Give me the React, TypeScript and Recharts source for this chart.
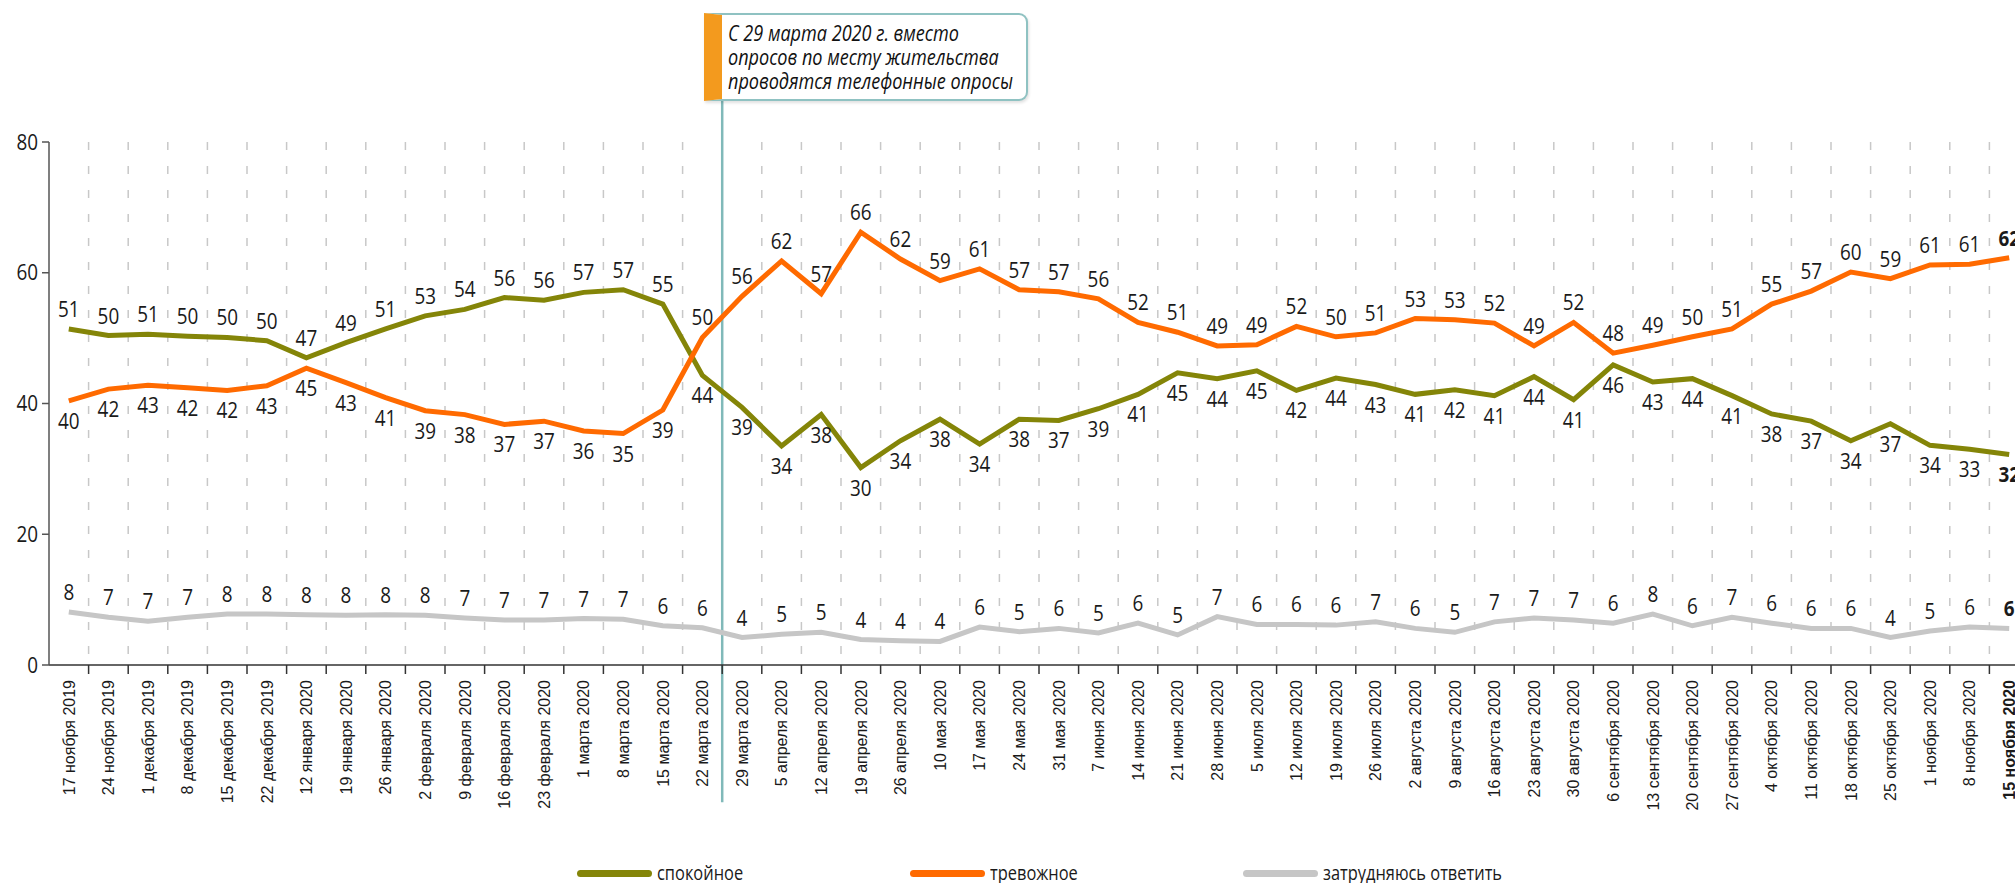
import React from 'react';
import {
  LineChart, Line, XAxis, YAxis, CartesianGrid, ReferenceLine, LabelList, Legend
} from 'recharts';

// weekly polls, 17.11.2019 – 15.11.2020
const categories = [
  '17 ноября 2019', '24 ноября 2019', '1 декабря 2019', '8 декабря 2019', '15 декабря 2019',
  '22 декабря 2019', '12 января 2020', '19 января 2020', '26 января 2020', '2 февраля 2020',
  '9 февраля 2020', '16 февраля 2020', '23 февраля 2020', '1 марта 2020', '8 марта 2020',
  '15 марта 2020', '22 марта 2020', '29 марта 2020', '5 апреля 2020', '12 апреля 2020',
  '19 апреля 2020', '26 апреля 2020', '10 мая 2020', '17 мая 2020', '24 мая 2020',
  '31 мая 2020', '7 июня 2020', '14 июня 2020', '21 июня 2020', '28 июня 2020',
  '5 июля 2020', '12 июля 2020', '19 июля 2020', '26 июля 2020', '2 августа 2020',
  '9 августа 2020', '16 августа 2020', '23 августа 2020', '30 августа 2020', '6 сентября 2020',
  '13 сентября 2020', '20 сентября 2020', '27 сентября 2020', '4 октября 2020', '11 октября 2020',
  '18 октября 2020', '25 октября 2020', '1 ноября 2020', '8 ноября 2020', '15 ноября 2020',
];

const calm = [
  51.4, 50.4, 50.6, 50.3, 50.1, 49.6, 47.0, 49.3, 51.4, 53.4,
  54.4, 56.2, 55.8, 57.0, 57.4, 55.2, 44.3, 39.4, 33.5, 38.3,
  30.2, 34.3, 37.6, 33.8, 37.6, 37.4, 39.2, 41.4, 44.7, 43.8,
  45.0, 42.0, 43.9, 42.9, 41.4, 42.1, 41.2, 44.1, 40.6, 45.9,
  43.3, 43.8, 41.2, 38.4, 37.3, 34.3, 36.9, 33.6, 33.0, 32.2,
];

const anxious = [
  40.4, 42.2, 42.8, 42.4, 42.0, 42.7, 45.4, 43.2, 40.9, 38.9,
  38.3, 36.8, 37.3, 35.8, 35.4, 39.0, 50.1, 56.4, 61.8, 56.8,
  66.2, 62.1, 58.8, 60.6, 57.4, 57.1, 56.0, 52.4, 50.9, 48.8,
  49.0, 51.8, 50.2, 50.8, 53.0, 52.8, 52.3, 48.8, 52.4, 47.7,
  48.9, 50.2, 51.4, 55.2, 57.2, 60.1, 59.1, 61.2, 61.3, 62.3,
];

const unsure = [
  8.1, 7.3, 6.7, 7.3, 7.8, 7.8, 7.7, 7.6, 7.7, 7.6,
  7.2, 6.9, 6.9, 7.1, 7.0, 6.0, 5.7, 4.2, 4.7, 5.0,
  3.9, 3.7, 3.6, 5.8, 5.1, 5.6, 4.9, 6.4, 4.6, 7.4,
  6.2, 6.2, 6.1, 6.6, 5.6, 5.0, 6.6, 7.2, 6.9, 6.4,
  7.8, 6.0, 7.3, 6.4, 5.6, 5.6, 4.2, 5.2, 5.8, 5.6,
];

const yTicks = [0, 20, 40, 60, 80];
const lastFaceToFace = 16; // 22 марта 2020, after it polls go by phone
const noteLines = [
  'С 29 марта 2020 г. вместо',
  'опросов по месту жительства',
  'проводятся телефонные опросы',
];
const seriesOrder = ['calm', 'anxious', 'unsure'];

// no condensed face is installed, so the condensed look is faked with a horizontal squeeze
const cond = '"Open Sans", "Noto Sans", sans-serif';
const SQUEEZE = 0.82;
const NUM_SQUEEZE = 0.9;
const sans = '"Liberation Sans", Arial, sans-serif';

const COLORS = { calm: '#848508', anxious: '#ff6a00', unsure: '#c6c6c6' };

const data = categories.map((name, i) => ({
  idx: i,
  name,
  calm: calm[i],
  anxious: anxious[i],
  unsure: unsure[i],
}));

const last = categories.length - 1;
const bounds = categories.map((_, i) => i + 0.5);
const xTicks = [...categories.map((_, i) => i), ...bounds].sort((a, b) => a - b);

function XTick(props: any) {
  const { x, y, payload } = props;
  const v = payload.value;
  if (!Number.isInteger(v)) {
    return <line x1={x} x2={x} y1={y} y2={y + 9} stroke="#333" strokeWidth={1.5} />;
  }
  const ty = y + 15;
  return (
    <text
      x={x}
      y={ty}
      transform={`rotate(-90, ${x}, ${ty})`}
      textAnchor="end"
      dy="0.36em"
      fontSize={16}
      fontFamily={sans}
      fontWeight={v === last ? 700 : 400}
      fill="#1a1a1a"
    >
      {categories[v]}
    </text>
  );
}

function YTick(props: any) {
  const { x, y, payload } = props;
  return (
    <text transform={`translate(${x}, ${y}) scale(${NUM_SQUEEZE}, 1)`} textAnchor="end" dy="0.36em"
      fontSize={21} fontFamily={cond} fill="#1a1a1a">
      {payload.value}
    </text>
  );
}

function isAbove(key: string, i: number) {
  if (key === 'unsure') return true;
  if (key === 'calm') return calm[i] >= anxious[i];
  return anxious[i] > calm[i];
}

const makeLabel = (key: string) => (props: any) => {
  const { x, y, value, index } = props;
  if (x == null || y == null) return null;
  const ty = isAbove(key, index) ? y - 12 : y + 28;
  return (
    <text
      transform={`translate(${x}, ${ty}) scale(${NUM_SQUEEZE}, 1)`}
      textAnchor="middle"
      fontSize={21}
      fontFamily={cond}
      fontWeight={index === last ? 700 : 400}
      fill="#1a1a1a"
    >
      {Math.round(value)}
    </text>
  );
};

const squeezed: React.CSSProperties = {
  display: 'inline-block', whiteSpace: 'nowrap', transform: `scaleX(${SQUEEZE})`, transformOrigin: '0 50%',
};

function LegendRow(props: any) {
  const payload = [...(props.payload || [])].sort(
    (a: any, b: any) => seriesOrder.indexOf(a.dataKey) - seriesOrder.indexOf(b.dataKey)
  );
  return (
    <div style={{ height: 26, display: 'flex', alignItems: 'center', paddingLeft: 577 }}>
      {payload.map((p: any) => (
        <div key={p.value} style={{ width: 333, display: 'flex', alignItems: 'center' }}>
          <span style={{ width: 75, height: 7, borderRadius: 4, background: p.color, marginRight: 5 }} />
          <span style={{ ...squeezed, fontFamily: cond, fontSize: 20, lineHeight: '22px', color: '#1a1a1a' }}>{p.value}</span>
        </div>
      ))}
    </div>
  );
}

export default function App() {
  return (
    <div style={{ position: 'absolute', left: 0, top: 0, width: 2015, height: 883, overflow: 'hidden', background: '#fff' }}>
      <LineChart width={2029} height={883} data={data} margin={{ top: 142, right: 0, bottom: 0, left: 0 }}>
        <CartesianGrid
          horizontal={false}
          verticalValues={bounds.slice(0, -1)}
          stroke="#c8c8c8"
          strokeWidth={1.5}
          strokeDasharray="8 16"
        />
        <XAxis
          dataKey="idx"
          type="number"
          domain={[-0.5, last + 0.5]}
          ticks={xTicks}
          interval={0}
          height={192}
          tickLine={false}
          tickSize={0}
          tickMargin={0}
          tick={<XTick />}
          axisLine={{ stroke: '#333', strokeWidth: 1.5 }}
        />
        <YAxis
          type="number"
          domain={[0, 80]}
          ticks={yTicks}
          width={49}
          tickSize={7}
          tickMargin={4}
          axisLine={{ stroke: '#555', strokeWidth: 1.5 }}
          tickLine={{ stroke: '#555', strokeWidth: 1.5 }}
          tick={<YTick />}
        />
        <ReferenceLine
          segment={[{ x: lastFaceToFace + 0.5, y: 99.7 }, { x: lastFaceToFace + 0.5, y: -21 }]}
          stroke="#80b9b9"
          strokeWidth={2.5}
          ifOverflow="visible"
        />
        <Legend verticalAlign="bottom" align="left" wrapperStyle={{ left: 0, bottom: -3 }} content={<LegendRow />} />
        <Line dataKey="calm" name="спокойное" stroke={COLORS.calm} strokeWidth={5} dot={false} isAnimationActive={false}>
          <LabelList dataKey="calm" content={makeLabel('calm')} />
        </Line>
        <Line dataKey="anxious" name="тревожное" stroke={COLORS.anxious} strokeWidth={5} dot={false} isAnimationActive={false}>
          <LabelList dataKey="anxious" content={makeLabel('anxious')} />
        </Line>
        <Line dataKey="unsure" name="затрудняюсь ответить" stroke={COLORS.unsure} strokeWidth={5} dot={false} isAnimationActive={false}>
          <LabelList dataKey="unsure" content={makeLabel('unsure')} />
        </Line>
      </LineChart>
      <div
        style={{
          position: 'absolute', left: 704, top: 13, width: 324, height: 88, boxSizing: 'border-box',
          background: '#fff', border: '2px solid #8fc2c2', borderLeft: '18px solid #f39a1e',
          borderRadius: '0 9px 9px 0', boxShadow: '1px 2px 3px rgba(0,0,0,0.12)',
          padding: '6px 0 0 6px', fontFamily: cond, fontStyle: 'italic', fontSize: 21,
          lineHeight: '24px', color: '#111',
        }}
      >
        {noteLines.map(l => (
          <div key={l} style={{ height: 24 }}>
            <span style={{ ...squeezed, transform: 'scaleX(0.86)' }}>{l}</span>
          </div>
        ))}
      </div>
    </div>
  );
}
